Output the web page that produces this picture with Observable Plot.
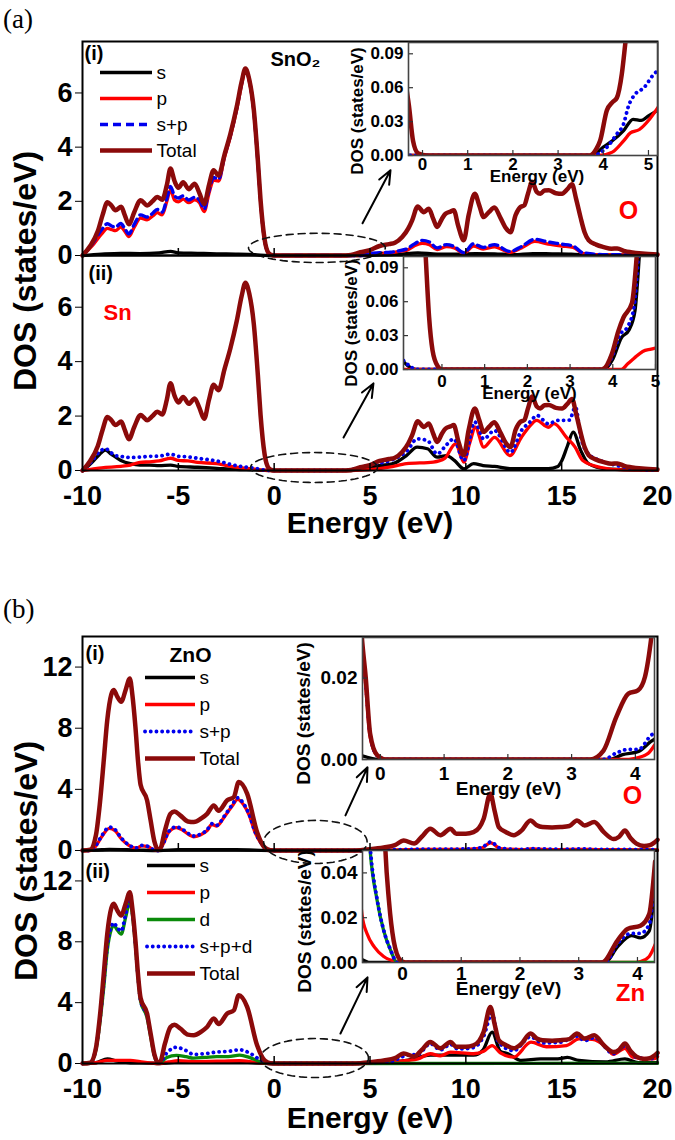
<!DOCTYPE html>
<html><head><meta charset="utf-8">
<script src="https://cdn.jsdelivr.net/npm/d3@7"></script>
<script src="https://cdn.jsdelivr.net/npm/@observablehq/plot@0.6"></script>
<style>
body{margin:0;background:#fff}
#fig{position:relative;width:675px;height:1140px;overflow:hidden;background:#fff;font-family:"Liberation Sans",Arial,sans-serif}
#fig svg{position:absolute;overflow:visible}
.tag{position:absolute;font-family:"Liberation Serif","Times New Roman",serif;font-size:27px;line-height:1}
.ylab{position:absolute;font-weight:bold;font-size:32px;white-space:nowrap;transform:translate(-50%,-50%) rotate(-90deg);line-height:1}
</style></head>
<body><div id="fig"></div>
<script>
// ---------------- DATA (energy in eV, DOS in states/eV) ----------------
const energyTicks = [-10, -5, 0, 5, 10, 15, 20];

// SnO2 total DOS (same in (a)(i) and (a)(ii))
const sno2Total = [[-10,0],[-9.6,0.35],[-9.2,0.9],[-8.95,1.5],[-8.7,1.97],[-8.5,1.85],[-8.28,1.67],[-7.98,1.8],[-7.8,1.5],[-7.58,1.15],[-7.3,1.6],[-6.97,2.04],[-6.63,1.85],[-6.35,2.0],[-6.1,2.16],[-5.84,2.06],[-5.6,2.6],[-5.41,3.21],[-5.2,2.75],[-5.0,2.5],[-4.75,2.7],[-4.45,2.45],[-4.15,2.65],[-3.9,2.3],[-3.65,1.9],[-3.4,2.6],[-3.16,3.15],[-2.9,2.95],[-2.6,3.7],[-2.28,4.5],[-1.95,5.5],[-1.7,6.4],[-1.5,6.9],[-1.3,6.5],[-1.06,5.37],[-0.85,3.5],[-0.71,2.04],[-0.5,0.6],[-0.3,0.1],[-0.1,0.01],[0,0],[3.5,0],[4.0,0.02],[4.5,0.12],[5.0,0.2],[5.5,0.35],[6.0,0.42],[6.3,0.47],[6.68,0.68],[7.0,1.0],[7.2,1.3],[7.49,1.81],[7.81,1.6],[8.07,1.73],[8.3,1.35],[8.5,1.05],[8.75,1.35],[8.94,1.54],[9.2,1.62],[9.37,1.67],[9.6,1.1],[9.89,0.56],[10.15,1.5],[10.47,2.28],[10.7,1.85],[10.93,1.42],[11.2,1.6],[11.49,1.77],[11.8,1.4],[12.1,1.0],[12.33,0.86],[12.6,1.5],[12.85,1.79],[13.05,1.85],[13.25,2.3],[13.46,2.72],[13.7,2.35],[13.89,2.28],[14.1,2.4],[14.33,2.41],[14.7,2.3],[15.02,2.28],[15.3,2.45],[15.54,2.63],[15.75,2.1],[15.98,1.42],[16.2,0.85],[16.41,0.56],[16.8,0.4],[17.2,0.31],[17.6,0.25],[17.9,0.26],[18.3,0.16],[18.6,0.12],[19.2,0.07],[20,0.04]];

// (a)(i) O partial DOS
const sno2O_s = [[-10,0],[-9,0.05],[-8,0.08],[-7,0.07],[-6,0.1],[-5.4,0.15],[-5,0.1],[-4,0.08],[-3,0.06],[-2,0.05],[-1,0.03],[-0.3,0],[4.5,0],[5.5,0.02],[6.5,0.05],[7.5,0.1],[8.5,0.05],[9.5,0.05],[10.5,0.07],[11.5,0.06],[12.5,0.03],[13.5,0.07],[14.5,0.06],[15.5,0.05],[16.5,0.02],[20,0.01]];
const sno2O_p = [[-10,0],[-9.5,0.35],[-9.0,0.8],[-8.7,1.0],[-8.45,0.95],[-8.28,0.92],[-8.0,1.05],[-7.8,0.9],[-7.58,0.7],[-7.3,1.05],[-6.97,1.38],[-6.63,1.32],[-6.35,1.45],[-6.1,1.58],[-5.84,1.5],[-5.6,2.0],[-5.41,2.42],[-5.2,2.05],[-5.0,1.98],[-4.75,2.08],[-4.45,1.95],[-4.15,2.05],[-3.9,1.95],[-3.65,1.62],[-3.4,2.3],[-3.16,2.78],[-2.9,2.75],[-2.6,3.6],[-2.28,4.4],[-1.95,5.4],[-1.7,6.3],[-1.5,6.85],[-1.3,6.45],[-1.06,5.3],[-0.85,3.45],[-0.71,2.0],[-0.5,0.58],[-0.3,0.09],[-0.1,0.01],[0,0],[4.5,0],[5.0,0.05],[5.5,0.08],[6.0,0.1],[6.5,0.15],[6.94,0.2],[7.3,0.35],[7.72,0.45],[8.1,0.4],[8.5,0.22],[9.0,0.33],[9.4,0.28],[9.9,0.08],[10.4,0.35],[10.9,0.24],[11.5,0.32],[12.3,0.12],[12.9,0.28],[13.6,0.52],[14.3,0.42],[15.0,0.35],[15.6,0.3],[16.1,0.08],[17.3,0.02],[20,0.01]];
const sno2O_sp = [[-10,0],[-9.5,0.42],[-9.0,0.95],[-8.7,1.17],[-8.45,1.08],[-8.28,1.05],[-8.0,1.18],[-7.8,1.0],[-7.58,0.8],[-7.3,1.15],[-6.97,1.5],[-6.63,1.42],[-6.35,1.55],[-6.1,1.7],[-5.84,1.6],[-5.6,2.1],[-5.41,2.55],[-5.2,2.2],[-5.0,2.12],[-4.75,2.2],[-4.45,2.05],[-4.15,2.15],[-3.9,2.05],[-3.65,1.72],[-3.4,2.4],[-3.16,2.88],[-2.9,2.82],[-2.6,3.65],[-2.28,4.45],[-1.95,5.45],[-1.7,6.35],[-1.5,6.88],[-1.3,6.48],[-1.06,5.33],[-0.85,3.47],[-0.71,2.02],[-0.5,0.59],[-0.3,0.095],[-0.1,0.01],[0,0],[4.5,0],[5.0,0.08],[5.5,0.1],[6.07,0.12],[6.5,0.17],[6.94,0.25],[7.3,0.42],[7.72,0.56],[8.1,0.5],[8.5,0.28],[9.0,0.4],[9.4,0.33],[9.9,0.1],[10.4,0.43],[10.9,0.3],[11.5,0.4],[12.3,0.15],[12.9,0.33],[13.6,0.6],[14.3,0.5],[15.0,0.42],[15.6,0.35],[16.1,0.1],[17.3,0.03],[20,0.02]];

// (a)(ii) Sn partial DOS
const sno2Sn_s = [[-10,0],[-9.5,0.3],[-9.1,0.6],[-8.8,0.75],[-8.5,0.6],[-8.0,0.37],[-7.5,0.25],[-7.0,0.2],[-6.5,0.2],[-6.0,0.18],[-5.4,0.2],[-5.0,0.15],[-4.0,0.12],[-3.0,0.08],[-2.0,0.04],[-1.0,0.02],[-0.5,0.005],[0,0],[4.0,0],[4.5,0.05],[5.2,0.15],[6.2,0.25],[6.9,0.55],[7.46,0.86],[8.0,0.8],[8.5,0.49],[9.0,0.55],[9.4,0.37],[9.9,0.06],[10.4,0.25],[10.9,0.18],[11.5,0.15],[12.3,0.07],[13.2,0.07],[14.3,0.07],[14.8,0.15],[15.0,0.35],[15.3,0.9],[15.6,1.41],[16.0,0.73],[16.4,0.25],[17.3,0.06],[19,0.02],[20,0.01]];
const sno2Sn_p = [[-10,0],[-9.5,0.05],[-9.0,0.1],[-8.0,0.15],[-7.5,0.2],[-7.0,0.3],[-6.5,0.32],[-6.0,0.35],[-5.4,0.45],[-5.0,0.37],[-4.5,0.35],[-4.0,0.3],[-3.0,0.25],[-2.0,0.12],[-1.0,0.05],[-0.5,0.01],[0,0],[4.0,0],[5.0,0.03],[6.0,0.12],[6.9,0.25],[8.3,0.31],[8.9,0.45],[9.46,0.98],[9.9,0.31],[10.2,1.0],[10.5,1.59],[10.93,0.86],[11.5,1.22],[12.3,0.55],[12.9,1.22],[13.3,1.6],[13.7,1.84],[14.3,1.59],[14.6,1.72],[15.25,1.22],[15.7,0.86],[16.1,0.37],[17.0,0.12],[18.2,0.02],[20,0.01]];
const sno2Sn_sp = [[-10,0],[-9.5,0.35],[-9.1,0.7],[-8.8,0.8],[-8.5,0.65],[-8.3,0.55],[-8.0,0.52],[-7.5,0.48],[-7.0,0.49],[-6.5,0.52],[-6.0,0.53],[-5.4,0.6],[-5.0,0.52],[-4.5,0.5],[-4.0,0.45],[-3.0,0.35],[-2.0,0.18],[-1.0,0.08],[-0.5,0.015],[0,0],[3.5,0],[4.3,0.08],[5.2,0.24],[6.07,0.37],[6.94,0.73],[7.46,1.16],[8.0,1.1],[8.5,0.61],[9.0,0.95],[9.37,1.16],[9.89,0.37],[10.47,1.78],[10.93,1.16],[11.49,1.47],[12.33,0.67],[12.9,1.47],[13.3,1.75],[13.72,2.02],[14.3,1.72],[14.8,1.84],[15.4,1.85],[15.72,2.33],[16.0,1.22],[16.4,0.61],[17.0,0.37],[17.9,0.18],[19.8,0.02],[20,0.02]];

// insets of (a): band-gap region
const sno2InsetO_total = [[-0.4,0.07],[-0.3,0.044],[-0.21,0.013],[-0.1,0.002],[0.1,0],[3.7,0],[3.85,0.006],[3.93,0.013],[4.08,0.04],[4.2,0.047],[4.3,0.051],[4.41,0.072],[4.49,0.1],[4.6,0.14]];
const sno2InsetO_s = [[-0.4,0],[3.75,0],[4.0,0.0075],[4.2,0.013],[4.45,0.022],[4.66,0.032],[4.84,0.031],[5.0,0.035],[5.2,0.04]];
const sno2InsetO_p = [[-0.4,0],[3.9,0],[4.2,0.003],[4.45,0.013],[4.6,0.02],[4.8,0.023],[5.0,0.031],[5.2,0.042]];
const sno2InsetO_sp = [[-0.4,0],[3.8,0],[3.95,0.003],[4.08,0.0073],[4.3,0.019],[4.45,0.028],[4.56,0.044],[4.7,0.054],[4.9,0.06],[5.12,0.072],[5.2,0.075]];

const sno2InsetSn_total = [[-0.45,0.15],[-0.38,0.1],[-0.3,0.046],[-0.22,0.017],[-0.1,0.003],[0,0],[3.74,0],[3.98,0.014],[4.13,0.034],[4.25,0.046],[4.45,0.059],[4.56,0.1],[4.65,0.15]];
const sno2InsetSn_s = [[-0.9,0.007],[-0.75,0.002],[-0.6,0],[3.8,0],[4.0,0.009],[4.2,0.028],[4.38,0.035],[4.52,0.052],[4.62,0.1],[4.7,0.15]];
const sno2InsetSn_p = [[-0.9,0],[4.2,0],[4.35,0.005],[4.5,0.01],[4.7,0.016],[4.9,0.018],[5.0,0.019]];
const sno2InsetSn_sp = [[-0.9,0.008],[-0.75,0.003],[-0.6,0],[3.78,0],[3.98,0.011],[4.17,0.031],[4.35,0.038],[4.5,0.056],[4.6,0.1],[4.7,0.15]];

// ZnO total DOS (same in (b)(i) and (b)(ii))
const znoTotal = [[-10,0],[-9.6,0.05],[-9.3,1.0],[-9.1,3.0],[-8.89,5.9],[-8.71,8.5],[-8.5,10.2],[-8.37,10.5],[-8.2,10.1],[-7.98,9.73],[-7.75,10.5],[-7.53,11.26],[-7.4,10.2],[-7.24,8.1],[-7.1,5.8],[-6.97,4.3],[-6.63,3.28],[-6.45,2.0],[-6.25,0.6],[-6.05,0.05],[-5.95,0.1],[-5.7,1.3],[-5.41,2.4],[-5.2,2.55],[-4.9,2.3],[-4.5,1.9],[-4.19,1.86],[-3.8,2.1],[-3.5,2.4],[-3.15,2.95],[-2.9,2.6],[-2.45,3.28],[-2.1,3.5],[-1.85,4.48],[-1.41,3.72],[-0.89,1.2],[-0.5,0.2],[-0.2,0.01],[0,0],[4.0,0],[4.5,0.02],[5.0,0.08],[5.72,0.2],[6.3,0.35],[6.76,0.66],[7.3,0.45],[7.7,0.9],[8.15,1.42],[8.67,1.0],[9.2,1.42],[9.5,1.1],[10.0,1.1],[10.4,1.2],[10.7,1.5],[10.93,2.08],[11.28,3.72],[11.5,2.6],[11.72,1.53],[12.1,1.2],[12.5,1.0],[12.9,1.3],[13.37,1.97],[13.7,1.65],[14.0,1.53],[14.5,1.5],[14.93,1.53],[15.4,1.6],[15.8,1.97],[16.2,1.64],[16.7,1.86],[17.2,1.2],[17.7,0.75],[18.0,0.9],[18.3,1.31],[18.6,0.8],[18.9,0.45],[19.3,0.3],[19.6,0.35],[20,0.7]];

// (b)(i) O partial DOS
const znoO_s = [[-10,0],[-9,0.05],[-8.6,0.08],[-7,0.02],[-6,0],[-5,0.05],[-2,0.05],[0,0],[4.5,0],[11,0.02],[11.3,0.05],[11.6,0.02],[20,0.02]];
const znoO_p = [[-10,0],[-9.6,0],[-9.3,0.3],[-9.0,0.9],[-8.6,1.45],[-8.3,1.3],[-8.0,0.8],[-7.6,0.35],[-7.2,0.15],[-6.9,0.3],[-6.6,0.25],[-6.3,0.05],[-6.05,0],[-5.8,0.4],[-5.5,1.2],[-5.1,1.5],[-4.8,1.35],[-4.4,1.0],[-4.2,0.9],[-3.8,1.05],[-3.5,1.3],[-3.25,1.7],[-3.0,1.6],[-2.6,2.2],[-2.2,2.9],[-1.9,3.35],[-1.6,3.0],[-1.3,2.3],[-1.0,1.2],[-0.7,0.5],[-0.4,0.1],[0,0],[4.5,0],[6,0.02],[7,0.05],[8,0.07],[9,0.07],[10,0.08],[10.8,0.15],[11.3,0.5],[11.8,0.12],[13,0.05],[13.4,0.1],[14,0.08],[15,0.06],[16,0.08],[17,0.05],[18,0.05],[19,0.04],[20,0.04]];
const znoO_sp = [[-10,0],[-9.6,0],[-9.3,0.33],[-9.0,0.95],[-8.6,1.53],[-8.3,1.37],[-8.0,0.85],[-7.6,0.38],[-7.2,0.17],[-6.9,0.33],[-6.6,0.27],[-6.3,0.06],[-6.05,0],[-5.8,0.43],[-5.5,1.25],[-5.1,1.55],[-4.8,1.4],[-4.4,1.05],[-4.2,0.95],[-3.8,1.1],[-3.5,1.35],[-3.25,1.75],[-3.0,1.65],[-2.6,2.25],[-2.2,2.97],[-1.9,3.45],[-1.6,3.07],[-1.3,2.35],[-1.0,1.24],[-0.7,0.52],[-0.4,0.11],[0,0],[4.5,0],[6,0.04],[7,0.07],[8,0.09],[9,0.09],[10,0.1],[10.8,0.18],[11.3,0.56],[11.8,0.15],[13,0.07],[13.4,0.12],[14,0.1],[15,0.08],[16,0.1],[17,0.07],[18,0.07],[19,0.06],[20,0.06]];

// (b)(ii) Zn partial DOS
const znoZn_s = [[-10,0],[-9.3,0.05],[-8.7,0.3],[-8.2,0.15],[-7.5,0.05],[-6.5,0.03],[-6.0,0],[-5.0,0.1],[-4.0,0.08],[-3.0,0.1],[-2.0,0.12],[-1.0,0.05],[0,0],[4,0],[5.5,0.02],[6.9,0.2],[8.15,0.55],[9.2,0.55],[10.4,0.55],[10.9,0.9],[11.37,2.06],[11.8,0.8],[12.2,0.64],[12.9,0.2],[13.9,0.3],[14.8,0.3],[15.3,0.4],[15.9,0.2],[17.3,0.1],[18.3,0.3],[19,0.05],[20,0.05]];
const znoZn_p = [[-10,0],[-9.3,0.05],[-8.7,0.2],[-8.0,0.2],[-7.5,0.2],[-7.0,0.12],[-6.3,0.02],[-6.0,0],[-5.5,0.1],[-5.0,0.18],[-4.2,0.12],[-3.0,0.15],[-1.8,0.18],[-1.0,0.08],[-0.4,0.01],[0,0],[4,0],[5.5,0.03],[6.94,0.2],[7.5,0.3],[8.15,0.64],[8.67,0.5],[9.2,0.75],[10.4,0.64],[10.93,0.8],[11.37,1.18],[11.8,0.7],[12.5,0.42],[13.4,1.4],[14.2,1.1],[15.25,1.18],[15.9,1.62],[16.6,1.58],[17.3,1.1],[17.7,0.6],[18.3,1.0],[18.7,0.42],[19.8,0.3],[20,0.45]];
const znoZn_d = [[-10,0],[-9.6,0.05],[-9.3,0.9],[-9.1,2.6],[-8.89,5.0],[-8.71,7.4],[-8.5,8.8],[-8.37,9.1],[-8.2,8.8],[-7.98,8.5],[-7.75,9.6],[-7.53,10.6],[-7.4,9.8],[-7.24,7.8],[-7.1,5.6],[-6.97,4.1],[-6.63,3.0],[-6.45,1.8],[-6.25,0.5],[-6.05,0.02],[-5.95,0.05],[-5.6,0.4],[-5.1,0.53],[-4.6,0.45],[-4.2,0.35],[-3.6,0.4],[-3.0,0.45],[-2.4,0.45],[-1.8,0.55],[-1.3,0.4],[-0.8,0.15],[-0.4,0.02],[0,0],[4,0],[20,0.02]];
const znoZn_spd = [[-10,0],[-9.6,0.05],[-9.3,1.0],[-9.1,2.8],[-8.89,5.3],[-8.71,7.7],[-8.5,9.0],[-8.37,9.25],[-8.2,8.95],[-7.98,8.7],[-7.75,9.8],[-7.53,10.8],[-7.4,10.0],[-7.24,7.9],[-7.1,5.7],[-6.97,4.15],[-6.63,3.1],[-6.45,1.85],[-6.25,0.55],[-6.05,0.03],[-5.95,0.07],[-5.6,0.7],[-5.1,1.07],[-4.6,0.85],[-4.2,0.6],[-3.6,0.65],[-3.0,0.75],[-2.4,0.8],[-1.8,0.9],[-1.3,0.7],[-0.8,0.3],[-0.4,0.05],[0,0],[4.0,0],[5.0,0.05],[6.0,0.1],[6.94,0.55],[7.5,0.6],[8.15,1.3],[8.67,0.9],[9.2,1.25],[9.6,0.95],[10.4,1.05],[10.93,1.8],[11.37,3.3],[11.7,1.4],[12.5,0.85],[13.37,1.75],[14.0,1.35],[14.93,1.4],[15.8,1.8],[16.2,1.5],[16.7,1.7],[17.7,0.65],[18.3,1.15],[18.9,0.4],[19.6,0.3],[20,0.6]];

// insets of (b)
const znoInsetO_total = [[-0.35,0.045],[-0.29,0.03],[-0.23,0.0203],[-0.16,0.0063],[-0.05,0.0011],[0.1,0],[3.29,0],[3.5,0.0022],[3.7,0.0104],[3.89,0.0162],[4.04,0.017],[4.15,0.0203],[4.25,0.03],[4.3,0.037]];
const znoInsetO_s = [[-0.3,0.001],[0,0],[3.6,0],[3.8,0.0012],[4.05,0.002],[4.25,0.0045],[4.3,0.005]];
const znoInsetO_p = [[-0.35,0.043],[-0.29,0.028],[-0.23,0.018],[-0.16,0.0055],[-0.05,0.001],[0.1,0],[3.8,0],[4.0,0.0003],[4.2,0.0015],[4.3,0.0035]];
const znoInsetO_sp = [[-0.35,0.044],[-0.29,0.029],[-0.23,0.019],[-0.16,0.006],[-0.05,0.001],[0.1,0],[3.5,0],[3.7,0.0016],[3.9,0.0025],[4.05,0.0025],[4.25,0.006],[4.3,0.0065]];

const znoInsetZn_total = [[-0.32,0.07],[-0.29,0.05],[-0.23,0.0276],[-0.15,0.0098],[-0.03,0.0009],[0.05,0],[3.4,0],[3.66,0.0098],[3.83,0.015],[4.05,0.0164],[4.2,0.0216],[4.28,0.039],[4.3,0.045]];
const znoInsetZn_s = [[-0.7,0.0015],[-0.55,0],[3.45,0],[3.66,0.007],[3.9,0.012],[4.05,0.011],[4.2,0.014],[4.28,0.028],[4.3,0.031]];
const znoInsetZn_p = [[-0.7,0.024],[-0.69,0.0216],[-0.6,0.0127],[-0.48,0.007],[-0.32,0.0027],[-0.1,0.0004],[0,0],[3.9,0],[4.05,0.0004],[4.2,0.0027],[4.28,0.0067],[4.3,0.008]];
const znoInsetZn_d = [[-0.6,0.07],[-0.55,0.05],[-0.43,0.0276],[-0.32,0.0142],[-0.2,0.0053],[-0.09,0],[4.3,0]];
const znoInsetZn_spd = [[-0.6,0.072],[-0.55,0.052],[-0.43,0.028],[-0.32,0.0145],[-0.2,0.0055],[-0.09,0],[3.45,0],[3.66,0.0084],[3.9,0.013],[4.05,0.013],[4.2,0.017],[4.28,0.031],[4.3,0.034]];

// legends
const legendA = ["s", "p", "s+p", "Total"];
const legendB1 = ["s", "p", "s+p", "Total"];
const legendB2 = ["s", "p", "d", "s+p+d", "Total"];

// ---------------- STYLES ----------------
const FONT = '"Liberation Sans", Arial, sans-serif';
const ST = {
  s: {stroke: "#000000", strokeWidth: 3.3},
  p: {stroke: "#ff0000", strokeWidth: 3.3},
  d: {stroke: "#0a8a0a", strokeWidth: 3.3},
  spDash: {stroke: "#0000ee", strokeWidth: 3.4, strokeDasharray: "8,5"},
  spDot: {stroke: "#0000ee", strokeWidth: 3.8, strokeDasharray: "0.1,5.6", strokeLinecap: "round"},
  total: {stroke: "#8b0a0a", strokeWidth: 4.5}
};
const legendStyle = {"s": ST.s, "p": ST.p, "d": ST.d, "Total": ST.total};

const fig = document.getElementById("fig");
const rows = a => a.map(([E, v]) => ({E, v}));
const svgStyle = (size) => ({fontFamily: FONT, fontSize: size + "px", fontWeight: "bold", background: "transparent", overflow: "visible", color: "black"});

function ellipsePts(e) {
  return d3.range(0, 361, 5).map(a => ({E: e.cx + e.rx * Math.cos(a * Math.PI / 180), v: e.cy + e.ry * Math.sin(a * Math.PI / 180)}));
}

function place(svg, left, top) {
  svg.style.left = left + "px";
  svg.style.top = top + "px";
  fig.appendChild(svg);
}

function mainPanel(o) {
  const frameH = o.frameBottom - o.frameTop;
  const marks = [
    ...o.series.map(([data, st]) => Plot.line(rows(data), {x: "E", y: "v", curve: "monotone-x", ...st})),
    Plot.tickX([-5, 0, 5, 10, 15], {x: d => d, insetTop: frameH - 7, stroke: "black", strokeWidth: 1.5}),
    Plot.frame({stroke: "black", strokeWidth: 2}),
    Plot.line(ellipsePts(o.ellipse), {x: "E", y: "v", stroke: "#111", strokeWidth: 1.6, strokeDasharray: "7,5"}),
    Plot.arrow([o.arrow], {x1: d => d[0], y1: d => d[1], x2: d => d[2], y2: d => d[3], stroke: "black", strokeWidth: 2, headLength: 11, headAngle: 45}),
    ...o.texts.map(t => Plot.text([t.text], {text: d => d, frameAnchor: t.anchor, dx: t.dx, dy: t.dy, textAnchor: t.ta || "start", lineAnchor: "middle", fontSize: t.size, fontWeight: "bold", fill: t.fill || "black"}))
  ];
  if (o.xAxis) marks.push(Plot.text(["Energy (eV)"], {text: d => d, frameAnchor: "bottom", dy: o.xLabelDy, lineAnchor: "middle", fontSize: 30, fontWeight: "bold"}));
  const svg = Plot.plot({
    width: 675, height: o.height, marginLeft: 82, marginRight: 18,
    marginTop: o.frameTop - o.top, marginBottom: o.top + o.height - o.frameBottom,
    style: svgStyle(27),
    x: {domain: [-10, 20], ticks: energyTicks, tickSize: 0, tickPadding: 15, tickFormat: d => String(d), label: null, axis: o.xAxis ? "bottom" : null},
    y: {domain: [0, o.yMax], ticks: o.yTicks, tickSize: 7, tickPadding: 3, tickFormat: d => String(d), label: null},
    marks
  });
  place(svg, 0, o.top);
}

function insetPanel(o) {
  const frameH = o.frame.b - o.frame.t, frameW = o.frame.r - o.frame.l;
  const marks = [
    Plot.frame({fill: "white", stroke: null}),
    ...o.series.map(([data, st]) => Plot.line(rows(data), {x: "E", y: "v", curve: "monotone-x", clip: true, ...st})),
    Plot.tickX(o.xTicks, {x: d => d, insetTop: frameH - 5, stroke: "#333", strokeWidth: 1.2}),
    Plot.tickY(o.yTicks, {y: d => d, insetRight: frameW - 5, stroke: "#333", strokeWidth: 1.2}),
    Plot.frame({stroke: "#444", strokeWidth: 1.6}),
    Plot.text(["Energy (eV)"], {text: d => d, frameAnchor: "bottom", dx: o.eDx || 0, dy: o.eDy, lineAnchor: "middle", fontSize: o.font, fontWeight: "bold"}),
    Plot.text(["DOS (states/eV)"], {text: d => d, frameAnchor: "left", dx: o.dDx, dy: o.dDy, rotate: -90, textAnchor: "middle", lineAnchor: "middle", fontSize: o.font, fontWeight: "bold"})
  ];
  const svg = Plot.plot({
    width: o.width, height: o.height,
    marginLeft: o.frame.l - o.left, marginRight: o.left + o.width - o.frame.r,
    marginTop: o.frame.t - o.top, marginBottom: o.top + o.height - o.frame.b,
    style: svgStyle(o.font),
    x: {domain: o.xDomain, ticks: o.xTicks, tickSize: 0, tickPadding: o.xPad, tickFormat: d => String(d), label: null},
    y: {domain: o.yDomain, ticks: o.yTicks, tickSize: 0, tickPadding: 5, tickFormat: d3.format(".2f"), label: null},
    marks
  });
  place(svg, o.left, o.top);
}

function legend(labels, spStyle, x0, x1, y0, y1) {
  const marks = [];
  labels.forEach(l => {
    const st = legendStyle[l] || spStyle;
    marks.push(Plot.ruleY([l], {y: d => d, x1: 0, x2: 1, ...st}));
  });
  marks.push(Plot.text(labels, {y: d => d, x: 1, text: d => d, dx: 4, textAnchor: "start", lineAnchor: "middle", fontSize: 19, fontWeight: "normal", fill: "black"}));
  const svg = Plot.plot({
    width: 300, height: 1140, margin: 0,
    style: {fontFamily: FONT, background: "transparent", overflow: "visible"},
    x: {domain: [0, 1], range: [x0, x1], axis: null},
    y: {type: "point", domain: labels, range: [y0, y1], padding: 0, axis: null},
    marks
  });
  place(svg, 0, 0);
}

function tag(text, left, top) {
  const d = document.createElement("div");
  d.className = "tag"; d.textContent = text;
  d.style.left = left + "px"; d.style.top = top + "px";
  fig.appendChild(d);
}
function ylab(cx, cy) {
  const d = document.createElement("div");
  d.className = "ylab"; d.textContent = "DOS (states/eV)";
  d.style.left = cx + "px"; d.style.top = cy + "px";
  fig.appendChild(d);
}

// ---------------- PANEL (a) SnO2 ----------------
mainPanel({top: 0, height: 263, frameTop: 41, frameBottom: 255, yMax: 7.9, yTicks: [0, 2, 4, 6],
  series: [[sno2O_s, ST.s], [sno2O_p, ST.p], [sno2O_sp, ST.spDash], [sno2Total, ST.total]],
  ellipse: {cx: 2.23, cy: 0.28, rx: 3.57, ry: 0.54}, arrow: [4.61, 1.19, 6.07, 3.15],
  texts: [{text: "(i)", anchor: "top-left", dx: 2, dy: 12, size: 20},
          {text: "SnO₂", anchor: "top-left", dx: 213, dy: 18, size: 20, ta: "middle"},
          {text: "O", anchor: "top-right", dx: -29, dy: 169, size: 25, ta: "middle", fill: "#ff0000"}]});
mainPanel({top: 247, height: 303, frameTop: 255, frameBottom: 470, yMax: 7.9, yTicks: [0, 2, 4, 6], xAxis: true, xLabelDy: 53,
  series: [[sno2Sn_s, ST.s], [sno2Sn_p, ST.p], [sno2Sn_sp, ST.spDot], [sno2Total, ST.total]],
  ellipse: {cx: 2.08, cy: 0.11, rx: 3.31, ry: 0.55}, arrow: [3.62, 1.21, 5.18, 3.2],
  texts: [{text: "(ii)", anchor: "top-left", dx: 6, dy: 18, size: 20},
          {text: "Sn", anchor: "top-left", dx: 21, dy: 57, size: 22, fill: "#ff0000"}]});
insetPanel({left: 300, top: 0, width: 375, height: 200, frame: {l: 408, t: 42, r: 657, b: 155},
  xDomain: [-0.31, 5.2], yDomain: [0, 0.1], xTicks: [0, 1, 2, 3, 4, 5], yTicks: [0, 0.03, 0.06, 0.09], xPad: 2, font: 17,
  eDx: 4, eDy: 21, dDx: -51, dDy: 12,
  series: [[sno2InsetO_s, ST.s], [sno2InsetO_p, ST.p], [sno2InsetO_sp, ST.spDot], [sno2InsetO_total, ST.total]]});
insetPanel({left: 300, top: 220, width: 375, height: 190, frame: {l: 403, t: 256, r: 655, b: 369},
  xDomain: [-0.9, 5.0], yDomain: [0, 0.1], xTicks: [0, 1, 2, 3, 4, 5], yTicks: [0, 0.03, 0.06, 0.09], xPad: 5, font: 17,
  eDx: 0, eDy: 24, dDx: -52, dDy: 10,
  series: [[sno2InsetSn_s, ST.s], [sno2InsetSn_p, ST.p], [sno2InsetSn_sp, ST.spDot], [sno2InsetSn_total, ST.total]]});
legend(legendA, ST.spDash, 100, 152, 71, 151);

// ---------------- PANEL (b) ZnO ----------------
mainPanel({top: 596, height: 262, frameTop: 636, frameBottom: 850, yMax: 14, yTicks: [0, 4, 8, 12],
  series: [[znoO_s, ST.s], [znoO_p, ST.p], [znoO_sp, ST.spDot], [znoTotal, ST.total]],
  ellipse: {cx: 2.15, cy: 0.56, rx: 2.7, ry: 1.41}, arrow: [3.72, 2.3, 4.87, 5.44],
  texts: [{text: "(i)", anchor: "top-left", dx: 3, dy: 17, size: 20},
          {text: "ZnO", anchor: "top-left", dx: 108, dy: 19, size: 21, ta: "middle"},
          {text: "O", anchor: "top-right", dx: -25, dy: 159, size: 25, ta: "middle", fill: "#ff0000"}]});
mainPanel({top: 842, height: 298, frameTop: 850, frameBottom: 1063, yMax: 14, yTicks: [0, 4, 8, 12], xAxis: true, xLabelDy: 55,
  series: [[znoZn_s, ST.s], [znoZn_p, ST.p], [znoZn_d, ST.d], [znoZn_spd, ST.spDot], [znoTotal, ST.total]],
  ellipse: {cx: 2.1, cy: 0.36, rx: 2.82, ry: 1.28}, arrow: [3.46, 1.97, 4.87, 5.66],
  texts: [{text: "(ii)", anchor: "top-left", dx: 3, dy: 21, size: 20},
          {text: "Zn", anchor: "top-right", dx: -27, dy: 143, size: 24, ta: "middle", fill: "#ff0000"}]});
insetPanel({left: 260, top: 600, width: 415, height: 205, frame: {l: 362, t: 637, r: 654, b: 759},
  xDomain: [-0.28, 4.3], yDomain: [0, 0.03], xTicks: [0, 1, 2, 3, 4], yTicks: [0, 0.02], xPad: 7, font: 19,
  eDx: 0, eDy: 29, dDx: -59, dDy: 15,
  series: [[znoInsetO_s, ST.s], [znoInsetO_p, ST.p], [znoInsetO_sp, ST.spDot], [znoInsetO_total, ST.total]]});
insetPanel({left: 260, top: 820, width: 415, height: 190, frame: {l: 362, t: 850, r: 654, b: 962},
  xDomain: [-0.68, 4.29], yDomain: [0, 0.05], xTicks: [0, 1, 2, 3, 4], yTicks: [0, 0.02, 0.04], xPad: 4, font: 19,
  eDx: 0, eDy: 26, dDx: -58, dDy: 15,
  series: [[znoInsetZn_s, ST.s], [znoInsetZn_p, ST.p], [znoInsetZn_d, ST.d], [znoInsetZn_spd, ST.spDot], [znoInsetZn_total, ST.total]]});
legend(legendB1, ST.spDot, 145, 195, 677, 758);
legend(legendB2, ST.spDot, 147, 195, 865, 973);

tag("(a)", 3, 6);
tag("(b)", 3, 596);
ylab(25, 271);
ylab(26, 861);
</script>
</body></html>
